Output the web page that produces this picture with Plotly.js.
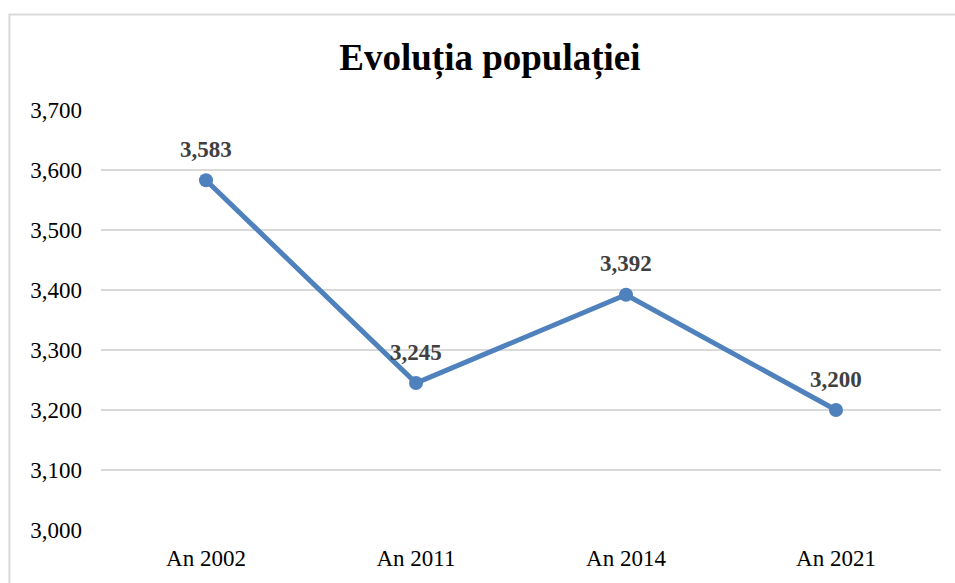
<!DOCTYPE html>
<html>
<head>
<meta charset="utf-8">
<script src="https://cdn.plot.ly/plotly-3.0.1.min.js"></script>
<style>html,body{margin:0;padding:0;background:#fff;}#chart{width:955px;height:583px;}</style>
</head>
<body>
<div id="chart"></div>
<script>
const categories = ["An 2002", "An 2011", "An 2014", "An 2021"];
const population = [3583, 3245, 3392, 3200];
const valueLabels = ["3,583", "3,245", "3,392", "3,200"];
const titleText = "Evoluția populației";

const trace = {
  type: "scatter",
  mode: "lines+markers",
  x: categories,
  y: population,
  line: {color: "#4f81bd", width: 5},
  marker: {color: "#4f81bd", size: 14},
  cliponaxis: false,
  hoverinfo: "skip"
};

const labelAnnotations = categories.map((c, i) => ({
  x: c, y: population[i], xref: "x", yref: "y",
  text: "<b>" + valueLabels[i] + "</b>",
  showarrow: false,
  xanchor: "center", yanchor: "middle",
  yshift: 31,
  font: {family: "Liberation Serif", size: 23, color: "#404040"}
}));

const layout = {
  width: 955, height: 583,
  margin: {l: 101, r: 14, t: 110, b: 53},
  paper_bgcolor: "#fff", plot_bgcolor: "#fff",
  showlegend: false,
  title: {
    text: "<b>" + titleText + "</b>",
    font: {family: "Liberation Serif", size: 37, color: "#000"},
    x: 0.513, xref: "container", xanchor: "center",
    y: 0.902, yref: "container", yanchor: "middle"
  },
  xaxis: {
    type: "category",
    range: [-0.5, 3.5],
    showgrid: false, zeroline: false, showline: false,
    ticks: "", ticklabelstandoff: 12,
    tickfont: {family: "Liberation Serif", size: 23, color: "#000"},
    fixedrange: true
  },
  yaxis: {
    range: [3000, 3700],
    dtick: 100,
    tickformat: ",d",
    showgrid: true, gridcolor: "#d9d9d9", gridwidth: 1.5,
    zeroline: false, showline: false,
    ticks: "", ticklabelstandoff: 18,
    tickfont: {family: "Liberation Serif", size: 23, color: "#000"},
    fixedrange: true
  },
  annotations: labelAnnotations,
  shapes: [{
    type: "rect", xref: "paper", yref: "paper",
    x0: -0.109, x1: 1.2, y0: -0.5, y1: 1.2274,
    line: {color: "#d9d9d9", width: 2}, layer: "below"
  }]
};

Plotly.newPlot("chart", [trace], layout, {displayModeBar: false, staticPlot: true});
</script>
</body>
</html>
